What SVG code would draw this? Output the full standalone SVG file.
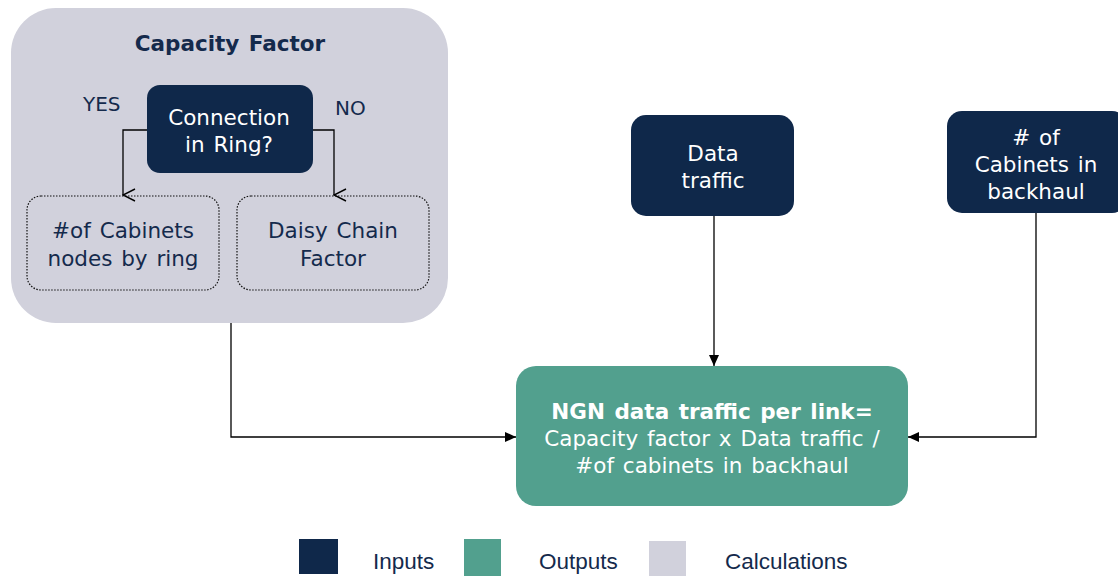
<svg xmlns="http://www.w3.org/2000/svg" width="1118" height="576" viewBox="0 0 1118 576">
  <defs>
    <style>
      .calc { fill: #d1d1dc; }
      .input { fill: #0f284a; }
      .output { fill: #52a08e; }
      .dotted { fill: none; stroke: #111; stroke-width: 1.2; stroke-dasharray: 1.5 1.5; }
      .t { font-family: "DejaVu Sans", Verdana, sans-serif; font-size: 21.5px; text-anchor: middle; word-spacing: 2px; }
      .dark { fill: #142a4c; }
      .light { fill: #ffffff; }
      .bold { font-weight: bold; }
      .lbl { font-family: "DejaVu Sans", Verdana, sans-serif; font-size: 20px; fill: #142a4c; }
      .legend { font-family: "Liberation Sans", Arial, sans-serif; font-size: 22.5px; fill: #142a4c; }
      .wire { fill: none; stroke: #000; stroke-width: 1.3; }
    </style>
    <marker id="open" viewBox="0 0 14 14" refX="7" refY="13" markerWidth="14" markerHeight="14" markerUnits="userSpaceOnUse" orient="auto-start-reverse">
      <path d="M1,1 L7,13 L13,1" fill="none" stroke="#000" stroke-width="1.4"/>
    </marker>
    <marker id="solid" viewBox="0 0 12 12" refX="11" refY="6" markerWidth="12" markerHeight="12" markerUnits="userSpaceOnUse" orient="auto">
      <path d="M0,1 L11,6 L0,11 Z" fill="#000"/>
    </marker>
  </defs>

  <!-- Calculation group -->
  <g id="capacity-factor">
    <rect class="calc" x="11" y="8" width="437" height="315" rx="45"/>
    <text class="t dark bold" x="230" y="51">Capacity Factor</text>
  </g>

  <g id="connection-in-ring">
    <rect class="input" x="147" y="85" width="166" height="88" rx="13"/>
    <text class="t light" x="229" y="125">Connection</text>
    <text class="t light" x="229" y="152">in Ring?</text>
  </g>

  <g id="cabinets-by-ring">
    <rect class="dotted" x="27" y="196" width="192" height="94" rx="14"/>
    <text class="t dark" x="123" y="238">#of Cabinets</text>
    <text class="t dark" x="123" y="266">nodes by ring</text>
  </g>

  <g id="daisy-chain">
    <rect class="dotted" x="237" y="196" width="192" height="94" rx="14"/>
    <text class="t dark" x="333" y="238">Daisy Chain</text>
    <text class="t dark" x="333" y="266">Factor</text>
  </g>

  <g id="data-traffic">
    <rect class="input" x="631" y="115" width="163" height="101" rx="15"/>
    <text class="t light" x="713" y="161">Data</text>
    <text class="t light" x="713" y="188">traffic</text>
  </g>

  <g id="cabinets-in-backhaul">
    <rect class="input" x="947" y="111" width="180" height="102" rx="15"/>
    <text class="t light" x="1036" y="145"># of</text>
    <text class="t light" x="1036" y="172">Cabinets in</text>
    <text class="t light" x="1036" y="199">backhaul</text>
  </g>

  <g id="ngn-data-traffic">
    <rect class="output" x="516" y="366" width="392" height="140" rx="20"/>
    <text class="t light bold" x="712" y="419">NGN data traffic per link=</text>
    <text class="t light" x="712" y="446">Capacity factor x Data traffic /</text>
    <text class="t light" x="712" y="473">#of cabinets in backhaul</text>
  </g>

  <!-- branch labels -->
  <text class="lbl" x="83" y="111">YES</text>
  <text class="lbl" x="335" y="115">NO</text>

  <!-- connectors -->
  <g id="connectors">
    <path class="wire" d="M147,130 H123 V195" marker-end="url(#open)"/>
    <path class="wire" d="M313,130 H334 V195" marker-end="url(#open)"/>
    <path class="wire" d="M231,323 V437 H516" marker-end="url(#solid)"/>
    <path class="wire" d="M714,216 V366" marker-end="url(#solid)"/>
    <path class="wire" d="M1036,213 V437 H908" marker-end="url(#solid)"/>
  </g>

  <!-- legend -->
  <g id="legend">
    <rect class="input" x="299" y="539" width="39" height="35"/>
    <text class="legend" x="373" y="569">Inputs</text>
    <rect class="output" x="464" y="539" width="37" height="37"/>
    <text class="legend" x="539" y="569">Outputs</text>
    <rect class="calc" x="649" y="541" width="37" height="35"/>
    <text class="legend" x="725" y="569">Calculations</text>
  </g>
</svg>
